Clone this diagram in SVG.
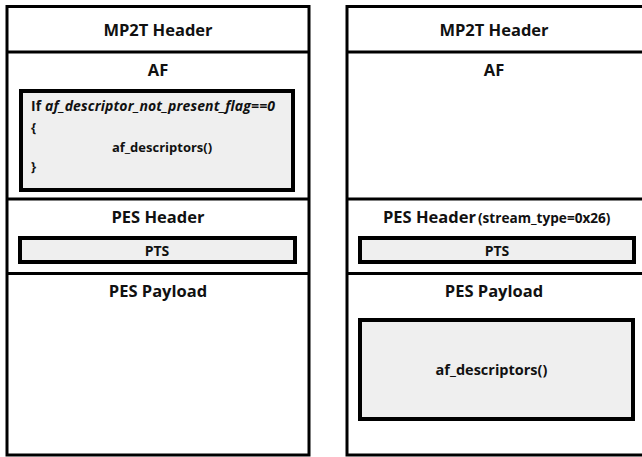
<svg xmlns="http://www.w3.org/2000/svg" width="642" height="457" viewBox="0 0 642 457">
  <style>
    .frame { fill: #ffffff; stroke: #000000; stroke-width: 3; }
    .sep { stroke: #000000; stroke-width: 3; }
    .field { fill: #efefef; stroke: #000000; stroke-width: 4; }
    text { font-family: "Open Sans", "Liberation Sans", sans-serif; font-weight: bold; fill: #111111; }
    .head { font-size: 16.5px; text-anchor: middle; }
    .small { font-size: 14px; }
    .mid { text-anchor: middle; }
    .code { font-size: 13px; }
  </style>

  <!-- Left packet: descriptors carried in the adaptation field -->
  <g id="packet-af">
    <rect class="frame" x="7" y="6.5" width="302" height="448.5"/>
    <line class="sep" x1="7" y1="52" x2="309" y2="52"/>
    <line class="sep" x1="7" y1="199" x2="309" y2="199"/>
    <line class="sep" x1="7" y1="273.5" x2="309" y2="273.5"/>

    <g id="left-mp2t-header">
      <text class="head" x="158" y="36">MP2T Header</text>
    </g>
    <g id="left-af">
      <text class="head" x="158" y="76">AF</text>
      <g id="left-af-descriptors">
        <rect class="field" x="21" y="91" width="272" height="99"/>
        <text font-size="14px" x="31" y="111" textLength="244" lengthAdjust="spacing">If <tspan font-style="italic">af_descriptor_not_present_flag==0</tspan></text>
        <text class="code" x="31" y="132">{</text>
        <text class="code mid" x="162" y="152">af_descriptors()</text>
        <text class="code" x="31" y="171">}</text>
      </g>
    </g>
    <g id="left-pes-header">
      <text class="head" x="158" y="223">PES Header</text>
      <g id="left-pts">
        <rect class="field" x="20" y="238" width="275" height="24"/>
        <text class="small mid" x="157" y="255.5">PTS</text>
      </g>
    </g>
    <g id="left-pes-payload">
      <text class="head" x="158" y="297">PES Payload</text>
    </g>
  </g>

  <!-- Right packet: descriptors carried in the PES payload -->
  <g id="packet-pes">
    <rect class="frame" x="347" y="6.5" width="300" height="448.5"/>
    <line class="sep" x1="347" y1="52" x2="647" y2="52"/>
    <line class="sep" x1="347" y1="199" x2="647" y2="199"/>
    <line class="sep" x1="347" y1="273.5" x2="647" y2="273.5"/>

    <g id="right-mp2t-header">
      <text class="head" x="494" y="36">MP2T Header</text>
    </g>
    <g id="right-af">
      <text class="head" x="494" y="76">AF</text>
    </g>
    <g id="right-pes-header">
      <text x="383" y="223"><tspan font-size="16.5px">PES Header</tspan><tspan font-size="13.6px" dx="2">(stream_type=0x26)</tspan></text>
      <g id="right-pts">
        <rect class="field" x="360" y="238" width="274" height="24"/>
        <text class="small mid" x="497" y="255.5">PTS</text>
      </g>
    </g>
    <g id="right-pes-payload">
      <text class="head" x="494" y="297">PES Payload</text>
      <g id="right-af-descriptors">
        <rect class="field" x="360" y="320" width="273" height="99"/>
        <text class="mid" font-size="14.5px" x="491.5" y="375">af_descriptors()</text>
      </g>
    </g>
  </g>
</svg>
